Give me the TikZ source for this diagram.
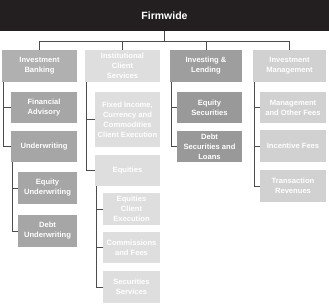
\documentclass[tikz,border=0pt]{standalone}
\usepackage{fontspec}
\setmainfont{Liberation Sans}
\begin{document}
\begin{tikzpicture}[x=1pt,y=-1pt,
  box/.style={anchor=north west,inner sep=0pt,outer sep=0pt,align=center,text=white,
    font=\bfseries\fontsize{7.6}{10}\selectfont},
  conn/.style={draw=black!70,line width=0.8pt},
  cA/.style={fill=black!31},
  cAs/.style={fill=black!35},
  cB/.style={fill=black!13},
  cC/.style={fill=black!38},
  cCs/.style={fill=black!40},
  cD/.style={fill=black!18}]
\useasboundingbox (0,0) rectangle (329,303);
\node[box,fill={rgb,255:red,35;green,31;blue,32},minimum width=329pt,minimum height=31pt,
  font=\bfseries\fontsize{10.5}{12}\selectfont] (top) at (0,0) {Firmwide};
% level 1
\node[box,cA,minimum width=75pt,minimum height=32pt] (IB) at (2,50) {Investment\\Banking};
\node[box,cB,minimum width=75pt,minimum height=32pt] (ICS) at (85,50) {Institutional\\Client\\Services};
\node[box,cC,minimum width=72pt,minimum height=32pt] (IL) at (170,50) {Investing \&\\Lending};
\node[box,cD,minimum width=73pt,minimum height=32pt] (IM) at (253,50) {Investment\\Management};
% IB children
\node[box,cAs,minimum width=66pt,minimum height=31pt] (FA) at (11,92) {Financial\\Advisory};
\node[box,cAs,minimum width=66pt,minimum height=31pt] (UW) at (11,131) {Underwriting};
\node[box,cAs,minimum width=59pt,minimum height=32pt] (EU) at (18,172) {Equity\\Underwriting};
\node[box,cAs,minimum width=59pt,minimum height=32pt] (DU) at (18,215) {Debt\\Underwriting};
% ICS children
\node[box,cB,minimum width=65pt,minimum height=55pt] (FICC) at (95,92) {Fixed Income,\\Currency and\\Commodities\\Client Execution};
\node[box,cB,minimum width=65pt,minimum height=31pt] (EQ) at (95,155) {Equities};
\node[box,cB,minimum width=57pt,minimum height=32pt] (ECE) at (103,193) {Equities\\Client\\Execution};
\node[box,cB,minimum width=57pt,minimum height=31pt] (CF) at (103,232) {Commissions\\and Fees};
\node[box,cB,minimum width=57pt,minimum height=32pt] (SS) at (103,271) {Securities\\Services};
% IL children
\node[box,cCs,minimum width=65pt,minimum height=31pt] (ES) at (177,92) {Equity\\Securities};
\node[box,cCs,minimum width=65pt,minimum height=31pt] (DSL) at (177,131) {Debt\\Securities and\\Loans};
% IM children
\node[box,cD,minimum width=66pt,minimum height=31pt] (MOF) at (260,92) {Management\\and Other Fees};
\node[box,cD,minimum width=66pt,minimum height=32pt] (IF) at (260,130) {Incentive Fees};
\node[box,cD,minimum width=66pt,minimum height=32pt] (TR) at (260,170) {Transaction\\Revenues};
% connectors
\draw[conn] (top.south) -- ++(0,10) coordinate (bus);
\draw[conn] (bus) -| (IB.north);
\draw[conn] (bus) -| (ICS.north);
\draw[conn] (bus) -| (IL.north);
\draw[conn] (bus) -| (IM.north);
\draw[conn] ([xshift=1pt]IB.south west) |- (FA.west);
\draw[conn] ([xshift=1pt]IB.south west) |- (UW.west);
\draw[conn] ([xshift=1pt]UW.south west) |- (EU.west);
\draw[conn] ([xshift=1pt]UW.south west) |- (DU.west);
\draw[conn] ([xshift=1pt]ICS.south west) |- (FICC.west);
\draw[conn] ([xshift=1pt]ICS.south west) |- (EQ.west);
\draw[conn] ([xshift=1pt]EQ.south west) |- (ECE.west);
\draw[conn] ([xshift=1pt]EQ.south west) |- (CF.west);
\draw[conn] ([xshift=1pt]EQ.south west) |- (SS.west);
\draw[conn] ([xshift=1pt]IL.south west) |- (ES.west);
\draw[conn] ([xshift=1pt]IL.south west) |- (DSL.west);
\draw[conn] ([xshift=1pt]IM.south west) |- (MOF.west);
\draw[conn] ([xshift=1pt]IM.south west) |- (IF.west);
\draw[conn] ([xshift=1pt]IM.south west) |- (TR.west);
\end{tikzpicture}
\end{document}
